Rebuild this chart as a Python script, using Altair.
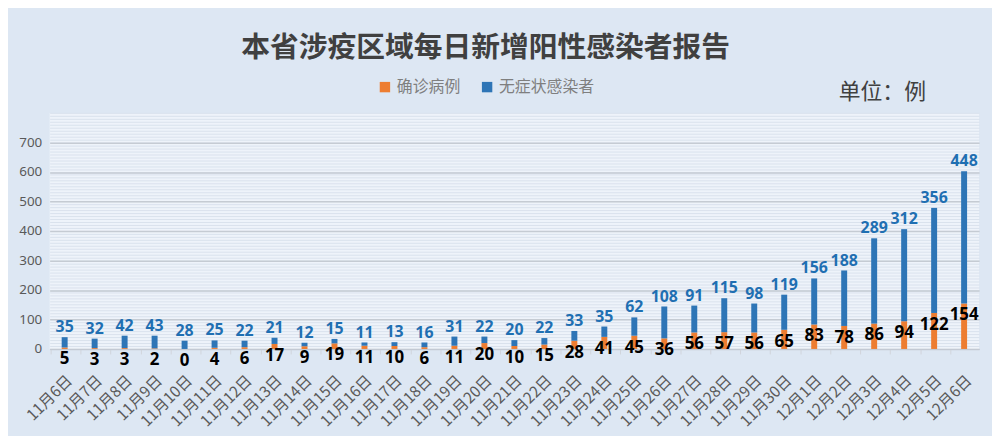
import altair as alt
import pandas as pd

dates = [
    "11月6日", "11月7日", "11月8日", "11月9日", "11月10日", "11月11日",
    "11月12日", "11月13日", "11月14日", "11月15日", "11月16日", "11月17日",
    "11月18日", "11月19日", "11月20日", "11月21日", "11月22日", "11月23日",
    "11月24日", "11月25日", "11月26日", "11月27日", "11月28日", "11月29日",
    "11月30日", "12月1日", "12月2日", "12月3日", "12月4日", "12月5日", "12月6日",
]
confirmed = [5, 3, 3, 2, 0, 4, 6, 17, 9, 19, 11, 10, 6, 11, 20, 10, 15, 28,
             41, 45, 36, 56, 57, 56, 65, 83, 78, 86, 94, 122, 154]
asymptomatic = [35, 32, 42, 43, 28, 25, 22, 21, 12, 15, 11, 13, 16, 31, 22, 20,
                22, 33, 35, 62, 108, 91, 115, 98, 119, 156, 188, 289, 312, 356, 448]
series = ["确诊病例", "无症状感染者"]
colors = ["#ed7d31", "#2e75b6"]
y_ticks = [0, 100, 200, 300, 400, 500, 600, 700]
minor_ticks = list(range(0, 801, 10))

CJK = "Noto Sans CJK SC"
NUM = "Noto Sans"

wide = pd.DataFrame({"date": dates, "confirmed": confirmed, "asym": asymptomatic})
wide["total"] = wide["confirmed"] + wide["asym"]

long = pd.concat([
    pd.DataFrame({"date": dates, "type": series[0], "value": confirmed, "ord": 0}),
    pd.DataFrame({"date": dates, "type": series[1], "value": asymptomatic, "ord": 1}),
])

yscale = alt.Scale(domain=[0, 800], nice=False)
x_enc = alt.X(
    "date:N", sort=dates, title=None,
    axis=alt.Axis(labelAngle=-45, labelFontSize=15.5, labelFont=CJK,
                  labelColor="#595959", labelPadding=19, domainColor="#c3c9d2",
                  tickColor="#d0d5dc", tickSize=5, bandPosition=0, grid=False),
)

bars = alt.Chart(long).mark_bar(size=6).encode(
    x=x_enc,
    y=alt.Y("value:Q", stack="zero", scale=yscale,
            axis=alt.Axis(values=minor_ticks, grid=True, gridColor="#dae2ed",
                          gridWidth=1, labels=False, ticks=False, domain=False,
                          title=None, orient="left")),
    color=alt.Color("type:N", scale=alt.Scale(domain=series, range=colors),
                    legend=alt.Legend(orient="none", legendX=330, legendY=-34,
                                      direction="horizontal", title=None,
                                      symbolType="square", symbolSize=110,
                                      symbolStrokeWidth=0, labelFont=CJK,
                                      labelFontSize=16, labelColor="#7f7f7f",
                                      columnPadding=18)),
    order=alt.Order("ord:Q"),
)

top_labels = alt.Chart(wide).mark_text(
    baseline="bottom", dy=-2, font=NUM, fontSize=16, fontWeight="bold",
    color="#1f6fb2",
).encode(
    x=x_enc,
    y=alt.Y("total:Q", scale=yscale,
            axis=alt.Axis(values=y_ticks, grid=True, gridColor="#c5cbd3",
                          gridWidth=1.5, labelFontSize=13.5, labelColor="#595959",
                          labelFont=NUM, labelPadding=8, ticks=False, domain=False,
                          orient="left", title="单位：例", titleAngle=0,
                          titleAlign="left", titleBaseline="middle",
                          titleX=795, titleY=-22, titleFont=CJK,
                          titleFontSize=22, titleFontWeight="normal",
                          titleColor="#404040")),
    text="asym:Q",
)

bottom_labels = alt.Chart(wide).mark_text(
    baseline="top", dy=4, font=NUM, fontSize=17, fontWeight="bold",
    color="#000000",
).encode(
    x=x_enc,
    y=alt.Y("confirmed:Q", scale=yscale, axis=None),
    text="confirmed:Q",
)

chart = (
    alt.layer(bars, top_labels, bottom_labels)
    .resolve_axis(y="independent")
    .properties(
        width=937,
        height=238,
        padding={"left": 42, "top": 104, "right": 13, "bottom": 86},
        autosize=alt.AutoSizeParams(type="none"),
        background="#dde7f3",
        title=alt.TitleParams(
            "本省涉疫区域每日新增阳性感染者报告", font=CJK, fontSize=29,
            fontWeight="bold", color="#404040", anchor="middle", dx=-29,
            offset=16,
        ),
    )
    .configure_view(fill="#eef3fa", stroke=None)
)

chart.save("out.html", embed_options={"renderer": "svg", "actions": False})
